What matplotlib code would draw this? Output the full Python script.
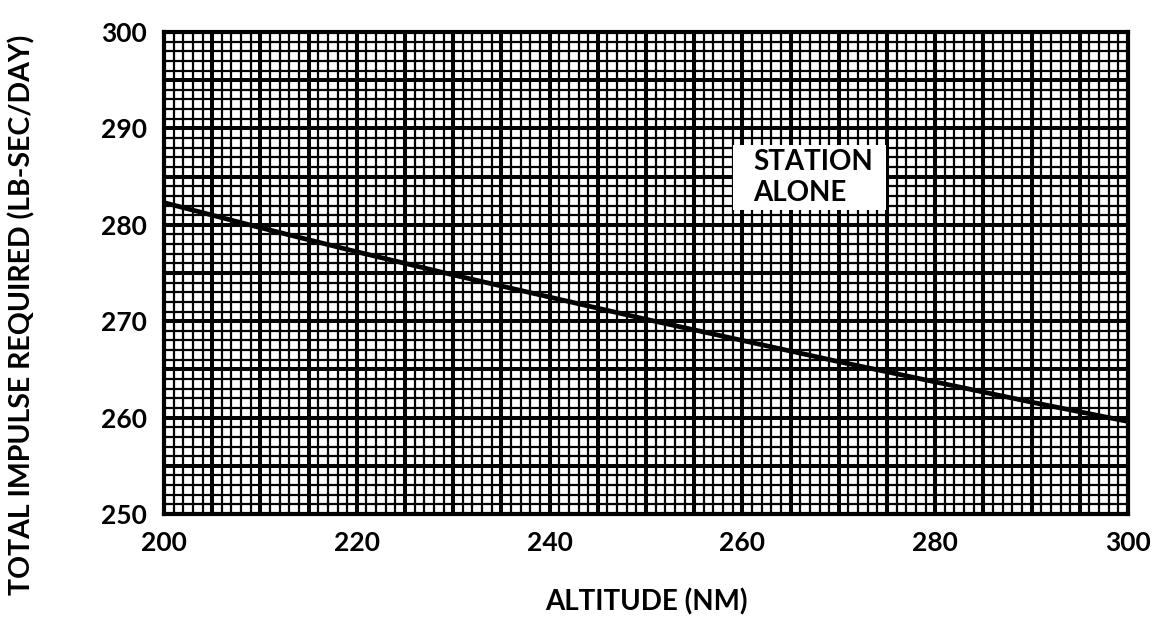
import matplotlib
matplotlib.use("Agg")
import matplotlib.pyplot as plt
from matplotlib.patches import Rectangle
import numpy as np

plt.rcParams['font.family'] = ['Lato', 'DejaVu Sans']
plt.rcParams['font.weight'] = 'bold'
plt.rcParams['axes.labelweight'] = 'bold'

altitude = [200, 210, 220, 230, 240, 250, 260, 270, 280, 290, 300]
impulse = [282.3, 279.7, 277.2, 274.8, 272.5, 270.2, 268.0, 265.8, 263.7, 261.6, 259.6]
x_ticks = [200, 220, 240, 260, 280, 300]
y_ticks = [250, 260, 270, 280, 290, 300]
x_label = "ALTITUDE (NM)"
y_label = "TOTAL IMPULSE REQUIRED (LB-SEC/DAY)"
annotation = "STATION\nALONE"

fig = plt.figure(figsize=(11.61, 6.23), dpi=100)
ax = fig.add_axes([164/1161, 1 - 514/623, (1128-164)/1161, (514-32)/623])

ax.set_xlim(200, 300)
ax.set_ylim(250, 300)

ax.set_xticks(np.arange(200, 301, 5))
ax.set_xticks(np.arange(200, 301, 1), minor=True)
ax.set_yticks(np.arange(250, 301, 5))
ax.set_yticks(np.arange(250, 301, 1), minor=True)
ax.grid(which='minor', color='black', linewidth=1.6, zorder=0)
ax.grid(which='major', color='black', linewidth=2.9, zorder=0)
ax.set_axisbelow(True)

ax.set_xticklabels([str(v) if v in x_ticks else "" for v in np.arange(200, 301, 5)])
ax.set_yticklabels([str(v) if v in y_ticks else "" for v in np.arange(250, 301, 5)])
ax.tick_params(which='both', length=0, labelsize=19)
ax.tick_params(axis='x', pad=12)
ax.tick_params(axis='y', pad=12)

for s in ax.spines.values():
    s.set_linewidth(3.0)
    s.set_color('black')

ax.plot(altitude, impulse, color='black', linewidth=3.4, zorder=3)

ax.add_patch(Rectangle((259.0, 281.5), 15.9, 6.8, facecolor='white', edgecolor='none', zorder=2))
ax.text(261.1, 284.9, annotation, ha='left', va='center', fontsize=20, linespacing=1.2, zorder=4)

ax.set_xlabel(x_label, fontsize=20, labelpad=24)
fig.text(22/1161, 1 - 315/623, y_label, rotation=90, ha='center', va='center', fontsize=20.5)

fig.savefig("out.png", dpi=100)
